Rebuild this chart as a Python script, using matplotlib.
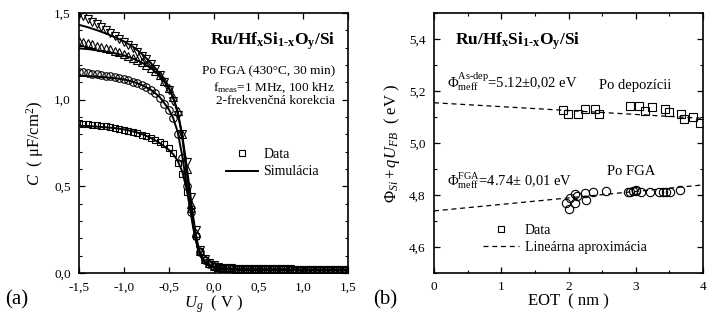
import numpy as np
import matplotlib
matplotlib.use('Agg')
import matplotlib.pyplot as plt
from matplotlib.lines import Line2D
from matplotlib.ticker import MultipleLocator, FuncFormatter

plt.rcParams['font.family'] = ['Liberation Serif', 'DejaVu Serif']
plt.rcParams['mathtext.fontset'] = 'custom'
plt.rcParams['mathtext.rm'] = 'Liberation Serif'
plt.rcParams['mathtext.it'] = 'Liberation Serif:italic'
plt.rcParams['mathtext.bf'] = 'Liberation Serif:bold'

# ---- (a) C-V data ----
u_data = np.round(np.linspace(-1.5, 1.5, 61), 2)
c_tail = [0.036, 0.032, 0.029, 0.027, 0.026, 0.025, 0.024, 0.024, 0.023, 0.023,
          0.022, 0.022, 0.022, 0.021, 0.021, 0.021, 0.021, 0.020, 0.020, 0.020,
          0.020, 0.020, 0.020, 0.019, 0.019, 0.019, 0.019, 0.019, 0.019, 0.019]
c_square = [0.864, 0.862, 0.859, 0.856, 0.853, 0.850, 0.846, 0.842, 0.838, 0.833,
            0.828, 0.822, 0.815, 0.807, 0.798, 0.788, 0.777, 0.768, 0.757, 0.743,
            0.722, 0.690, 0.635, 0.572, 0.470, 0.370, 0.215, 0.125, 0.075, 0.052,
            0.040] + c_tail
c_circle = [1.161, 1.158, 1.155, 1.151, 1.147, 1.143, 1.139, 1.134, 1.129, 1.124,
            1.118, 1.111, 1.103, 1.094, 1.084, 1.073, 1.058, 1.040, 1.012, 0.978,
            0.940, 0.893, 0.805, 0.665, 0.505, 0.350, 0.215, 0.122, 0.076, 0.054,
            0.042] + c_tail
c_tri_up = [1.336, 1.331, 1.325, 1.319, 1.312, 1.305, 1.298, 1.290, 1.282, 1.273,
            1.263, 1.253, 1.242, 1.229, 1.216, 1.200, 1.183, 1.163, 1.140, 1.110,
            1.068, 1.015, 0.935, 0.800, 0.600, 0.400, 0.230, 0.128, 0.080, 0.056,
            0.043] + c_tail
c_tri_down = [1.497, 1.482, 1.466, 1.450, 1.434, 1.418, 1.402, 1.386, 1.369, 1.352,
              1.334, 1.315, 1.296, 1.276, 1.255, 1.232, 1.207, 1.178, 1.145, 1.105,
              1.058, 0.995, 0.910, 0.800, 0.640, 0.440, 0.250, 0.135, 0.082, 0.057,
              0.044] + c_tail

u_sim = [-1.5, -1.4, -1.3, -1.2, -1.1, -1.0, -0.9, -0.8, -0.7, -0.6, -0.5, -0.45,
         -0.4, -0.35, -0.3, -0.275, -0.25, -0.225, -0.2, -0.175, -0.15, -0.125,
         -0.1, -0.05, 0.0, 0.1, 0.2, 0.4, 0.7, 1.0, 1.5]
sim_square = [0.850, 0.848, 0.845, 0.841, 0.836, 0.829, 0.818, 0.802, 0.780, 0.750,
              0.712, 0.686, 0.648, 0.588, 0.485, 0.412, 0.335, 0.258, 0.192, 0.142,
              0.105, 0.080, 0.063, 0.043, 0.033, 0.025, 0.022, 0.020, 0.019, 0.018, 0.018]
sim_circle = [1.138, 1.136, 1.133, 1.129, 1.124, 1.117, 1.104, 1.085, 1.058, 1.016,
              0.946, 0.895, 0.815, 0.680, 0.510, 0.430, 0.350, 0.272, 0.205, 0.150,
              0.110, 0.083, 0.065, 0.044, 0.034, 0.026, 0.022, 0.020, 0.019, 0.018, 0.018]
sim_tri_up = [1.296, 1.292, 1.285, 1.277, 1.268, 1.256, 1.238, 1.214, 1.183, 1.140,
              1.070, 1.015, 0.935, 0.790, 0.580, 0.480, 0.385, 0.292, 0.215, 0.156,
              0.112, 0.085, 0.066, 0.044, 0.034, 0.026, 0.022, 0.020, 0.019, 0.018, 0.018]
sim_tri_down = [1.432, 1.418, 1.401, 1.382, 1.361, 1.337, 1.306, 1.265, 1.213, 1.150,
                1.070, 1.010, 0.925, 0.800, 0.620, 0.520, 0.420, 0.320, 0.235, 0.165,
                0.118, 0.088, 0.068, 0.045, 0.034, 0.026, 0.022, 0.020, 0.019, 0.018, 0.018]

# ---- (b) flat-band data ----
eot_asdep = [1.92, 1.99, 2.14, 2.24, 2.39, 2.45, 2.91, 3.05, 3.13, 3.24, 3.43, 3.49,
             3.67, 3.72, 3.85, 3.96]
phi_asdep = [5.129, 5.112, 5.113, 5.132, 5.131, 5.110, 5.143, 5.142, 5.122, 5.138,
             5.132, 5.121, 5.111, 5.093, 5.102, 5.076]
eot_fga = [1.96, 2.01, 2.02, 2.09, 2.09, 2.12, 2.25, 2.26, 2.37, 2.56, 2.89, 2.91,
           2.96, 3.01, 3.01, 3.08, 3.21, 3.34, 3.40, 3.45, 3.51, 3.66]
phi_fga = [4.768, 4.745, 4.787, 4.804, 4.768, 4.796, 4.806, 4.782, 4.813, 4.817,
           4.810, 4.813, 4.817, 4.815, 4.820, 4.813, 4.810, 4.811, 4.810, 4.810,
           4.812, 4.818]
fit_eot = [0.0, 4.0]
fit_asdep = [5.155, 5.095]
fit_fga = [4.739, 4.839]


def comma(v, pos):
    return f"{v:.1f}".replace('.', ',').replace('\u2212', '-')


def style_axes(ax):
    ax.tick_params(which='both', direction='in', top=True, right=True,
                   labelsize=9.5, pad=6)
    ax.tick_params(which='major', length=4.5, width=0.9)
    ax.tick_params(which='minor', length=2.5, width=0.8)
    for s in ax.spines.values():
        s.set_linewidth(1.2)


fig = plt.figure(figsize=(7.13, 3.22), dpi=100)
ax1 = fig.add_axes([0.1108, 0.152, 0.3773, 0.8075])
ax2 = fig.add_axes([0.6087, 0.152, 0.3773, 0.8075])

mk = dict(ls='none', mfc='none', mec='black', mew=0.8)
ax1.plot(u_data, c_square, marker='s', ms=4.6, **mk)
ax1.plot(u_data, c_circle, marker='o', ms=5.4, **mk)
ax1.plot(u_data, c_tri_up, marker='^', ms=5.8, **mk)
ax1.plot(u_data, c_tri_down, marker='v', ms=5.8, **mk)
for sim in (sim_square, sim_circle, sim_tri_up, sim_tri_down):
    ax1.plot(u_sim, sim, color='black', lw=1.4)

ax1.set_xlim(-1.5, 1.5)
ax1.set_ylim(0, 1.5)
ax1.xaxis.set_major_locator(MultipleLocator(0.5))
ax1.yaxis.set_major_locator(MultipleLocator(0.5))
ax1.yaxis.set_minor_locator(MultipleLocator(0.1))
ax1.xaxis.set_major_formatter(FuncFormatter(comma))
ax1.yaxis.set_major_formatter(FuncFormatter(comma))
style_axes(ax1)
ax1.set_xlabel(r"$U_g$  ( V )", fontsize=12, labelpad=0)
ax1.set_ylabel(r"$C$  ( μF/cm$^2$)", fontsize=12, labelpad=6)

ax1.text(1.36, 1.34, r"$\mathbf{Ru/Hf_{x}Si_{1\text{-}x}O_{y}/Si}$", fontsize=12.5,
         ha='right', va='center')
ax1.text(1.36, 1.165, "Po FGA (430°C, 30 min)", fontsize=9.5, ha='right', va='center')
ax1.text(1.36, 1.07, r"f$_{\rm meas}$=1 MHz, 100 kHz", fontsize=9.5, ha='right', va='center')
ax1.text(1.36, 0.99, "2-frekvenčná korekcia", fontsize=9.5, ha='right', va='center')

h1 = [Line2D([], [], marker='s', ms=4.6, **mk),
      Line2D([], [], color='black', lw=1.4)]
ax1.legend(h1, ["Data", "Simulácia"], loc='center left', frameon=False,
           bbox_to_anchor=(0.14, 0.633), bbox_transform=ax1.transData,
           fontsize=10, handlelength=2.3, handletextpad=0.4, labelspacing=0.3,
           borderpad=0, borderaxespad=0)

# ---- (b) ----
ax2.plot(eot_asdep, phi_asdep, marker='s', ms=5.4, **mk)
ax2.plot(eot_fga, phi_fga, marker='o', ms=6.0, **mk)
ax2.plot(fit_eot, fit_asdep, color='black', ls=(0, (4, 3)), lw=0.9)
ax2.plot(fit_eot, fit_fga, color='black', ls=(0, (4, 3)), lw=0.9)

ax2.set_xlim(0, 4)
ax2.set_ylim(4.5, 5.5)
ax2.xaxis.set_major_locator(MultipleLocator(1))
ax2.xaxis.set_minor_locator(MultipleLocator(0.5))
ax2.yaxis.set_minor_locator(MultipleLocator(0.1))
ax2.set_yticks([4.6, 4.8, 5.0, 5.2, 5.4])
ax2.yaxis.set_major_formatter(FuncFormatter(comma))
style_axes(ax2)
ax2.set_xlabel("EOT  ( nm )", fontsize=12, labelpad=0)
ax2.set_ylabel(r"$\Phi_{Si}+qU_{FB}$  ( eV )", fontsize=12, labelpad=5)

ax2.text(0.31, 5.39, r"$\mathbf{Ru/Hf_{x}Si_{1\text{-}x}O_{y}/Si}$", fontsize=12.5,
         ha='left', va='center')
ax2.text(0.2, 5.235, r"$\Phi^{\rm As\text{-}dep}_{\rm meff}$=5.12±0,02 eV", fontsize=10.5,
         ha='left', va='center')
ax2.text(2.45, 5.22, "Po depozícii", fontsize=10.5, ha='left', va='center')
ax2.text(2.57, 4.89, "Po FGA", fontsize=10.5, ha='left', va='center')
ax2.text(0.2, 4.855, r"$\Phi^{\rm FGA}_{\rm meff}$=4.74± 0,01 eV", fontsize=10.5,
         ha='left', va='center')

h2 = [Line2D([], [], marker='s', ms=4.6, **mk),
      Line2D([], [], color='black', ls=(0, (4, 3)), lw=0.9)]
ax2.legend(h2, ["Data", "Lineárna aproximácia"], loc='center left', frameon=False,
           bbox_to_anchor=(0.73, 4.632), bbox_transform=ax2.transData,
           fontsize=10, handlelength=2.6, handletextpad=0.4, labelspacing=0.3,
           borderpad=0, borderaxespad=0)

fig.text(0.007, 0.07, "(a)", fontsize=15, ha='left', va='center')
fig.text(0.523, 0.07, "(b)", fontsize=15, ha='left', va='center')

fig.savefig("out.png", dpi=100)
